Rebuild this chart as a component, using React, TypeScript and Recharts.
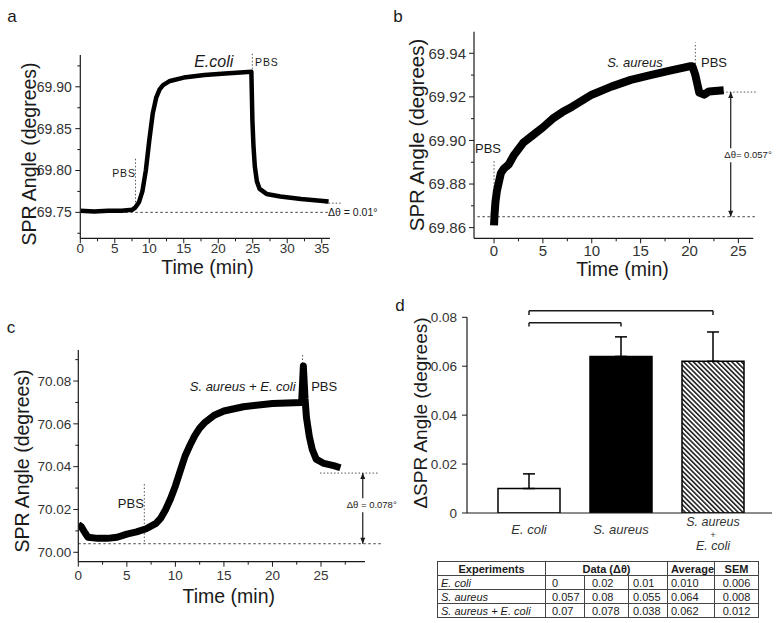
import React from "react";
import {
  Bar,
  BarChart,
  Cell,
  ErrorBar,
  Line,
  LineChart,
  ReferenceDot,
  ReferenceLine,
  XAxis,
  YAxis,
} from "recharts";

const FONT = '"Liberation Sans", Arial, sans-serif';
const INK = "#1a1a1a";
const GREY = "#333";

// a: E. coli
const timeA = [0, 2, 4, 6, 7.5, 8, 8.5, 9, 9.5, 10, 10.5, 11, 11.5, 12, 13, 15, 18, 21, 24.8, 24.95, 25.1, 25.3, 25.6, 26, 27, 29, 32, 36];
const angleA = [69.752, 69.751, 69.752, 69.752, 69.753, 69.756, 69.762, 69.775, 69.8, 69.836, 69.868, 69.887, 69.897, 69.902, 69.907, 69.911, 69.914, 69.916, 69.918, 69.86, 69.83, 69.805, 69.787, 69.778, 69.772, 69.769, 69.766, 69.763];
const xMajorA = [0, 5, 10, 15, 20, 25, 30, 35];
const xMinorA = [2.5, 7.5, 12.5, 17.5, 22.5, 27.5, 32.5];
const yMajorA = [69.75, 69.8, 69.85, 69.9];
const yMinorA = [69.725, 69.775, 69.825, 69.875, 69.925];

// b: S. aureus
const timeB = [0, 0.05, 0.15, 0.3, 0.5, 0.7, 1, 1.5, 2, 3, 4, 5, 6, 7, 8, 10, 12, 14, 16, 18, 20, 20.3, 20.6, 21, 21.5, 22, 23.5];
const angleB = [69.861, 69.866, 69.872, 69.877, 69.881, 69.885, 69.887, 69.889, 69.893, 69.899, 69.9025, 69.906, 69.91, 69.913, 69.9155, 69.921, 69.9247, 69.9278, 69.93, 69.932, 69.934, 69.934, 69.93, 69.922, 69.921, 69.9225, 69.923];
const xMajorB = [0, 5, 10, 15, 20, 25];
const xMinorB = [2.5, 7.5, 12.5, 17.5, 22.5];
const yMajorB = [69.86, 69.88, 69.9, 69.92, 69.94];
const yMinorB = [69.87, 69.89, 69.91, 69.93];

// c: S. aureus + E. coli
const timeC = [0, 0.3, 0.7, 1, 2, 3, 4, 5, 6, 7, 8, 8.5, 9, 9.5, 10, 10.5, 11, 11.5, 12, 12.5, 13, 14, 15, 17, 20, 23, 23.1, 23.18, 23.35, 23.5, 23.8, 24.1, 24.5, 25.3, 26.3, 27];
const angleC = [70.013, 70.012, 70.009, 70.007, 70.0065, 70.0065, 70.007, 70.0085, 70.0095, 70.011, 70.0135, 70.016, 70.02, 70.025, 70.031, 70.038, 70.045, 70.05, 70.0545, 70.058, 70.0605, 70.064, 70.066, 70.068, 70.0695, 70.07, 70.079, 70.087, 70.072, 70.063, 70.054, 70.048, 70.0435, 70.0415, 70.0405, 70.0395];
const xMajorC = [0, 5, 10, 15, 20, 25];
const xMinorC = [2.5, 7.5, 12.5, 17.5, 22.5, 27.5];
const yMajorC = [70.0, 70.02, 70.04, 70.06, 70.08];
const yMinorC = [70.01, 70.03, 70.05, 70.07, 70.09];

// d: summary
const groups = ["E. coli", "S. aureus", "S. aureus + E. coli"];
const averages = [0.01, 0.064, 0.062];
const sems = [0.006, 0.008, 0.012];
const barFills = ["#fff", "#000", "url(#hatch)"];
const yMajorD = [0, 0.02, 0.04, 0.06, 0.08];
const runs = [
  ["0", "0.02", "0.01"],
  ["0.057", "0.08", "0.055"],
  ["0.07", "0.078", "0.038"],
];

const dataA = timeA.map((t, i) => ({ t, v: angleA[i] }));
const dataB = timeB.map((t, i) => ({ t, v: angleB[i] }));
const dataC = timeC.map((t, i) => ({ t, v: angleC[i] }));
const dataD = groups.map((name, i) => ({ name, avg: averages[i], err: [0, sems[i]] }));

const isMajor = (list: number[], v: number) => list.some((m) => Math.abs(m - v) < 1e-9);

function yTick(majors: number[], fs: number, digits: number, gap: number) {
  return (p: any) => {
    const v = p.payload.value;
    const major = isMajor(majors, v);
    return (
      <g>
        <line x1={p.x - (major ? 5 : 3)} x2={p.x} y1={p.y} y2={p.y} stroke={INK} />
        {major && (
          <text x={p.x - gap} y={p.y} dy="0.35em" textAnchor="end" fontSize={fs} fill={GREY} fontFamily={FONT}>
            {v === 0 ? "0" : v.toFixed(digits)}
          </text>
        )}
      </g>
    );
  };
}

function xTick(majors: number[], fs: number, gap: number) {
  return (p: any) => {
    const v = p.payload.value;
    const major = isMajor(majors, v);
    return (
      <g>
        <line x1={p.x} x2={p.x} y1={p.y} y2={p.y + (major ? 5 : 3)} stroke={INK} />
        {major && (
          <text x={p.x} y={p.y + gap} dy="0.35em" textAnchor="middle" fontSize={fs} fill={GREY} fontFamily={FONT}>
            {v}
          </text>
        )}
      </g>
    );
  };
}

function groupTick(p: any) {
  const lines = String(p.payload.value).split(" + ");
  const rows = lines.length > 1 ? [lines[0], "+", lines[1]] : lines;
  const offs = rows.length > 1 ? [9, 21.5, 33] : [16];
  return (
    <g>
      {rows.map((r, i) => (
        <text
          key={i}
          x={p.x}
          y={p.y + offs[i]}
          dy="0.35em"
          textAnchor="middle"
          fontSize={r === "+" ? 9 : rows.length > 1 ? 12.5 : 13}
          fontStyle="italic"
          fill={GREY}
          fontFamily={FONT}
        >
          {r}
        </text>
      ))}
    </g>
  );
}

const arrowUp = (p: any) => <path d={`M${p.cx - 2.5},${p.cy + 6} L${p.cx},${p.cy} L${p.cx + 2.5},${p.cy + 6} Z`} fill={INK} />;
const arrowDown = (p: any) => <path d={`M${p.cx - 2.5},${p.cy - 6} L${p.cx},${p.cy} L${p.cx + 2.5},${p.cy - 6} Z`} fill={INK} />;

const dotted = { stroke: "#555", strokeDasharray: "1.5 2", strokeWidth: 1, ifOverflow: "visible" as const };
const dashed = { stroke: "#444", strokeDasharray: "2.5 2.5", strokeWidth: 1, ifOverflow: "visible" as const };
const axisLine = { stroke: INK, strokeWidth: 1.2 };

function Txt({ x, y, size, children, italic, rotate, left, bg, spacing }: any) {
  return (
    <div
      style={{
        position: "absolute",
        left: x,
        top: y,
        transform: `translate(${left ? "0" : "-50%"},-50%)${rotate ? " rotate(-90deg)" : ""}`,
        fontSize: size,
        fontStyle: italic ? "italic" : "normal",
        fontFamily: FONT,
        color: INK,
        whiteSpace: "nowrap",
        lineHeight: 1,
        background: bg ? "#fff" : "transparent",
        padding: bg ? "2px 0" : 0,
        letterSpacing: spacing || 0,
      }}
    >
      {children}
    </div>
  );
}

const cell: React.CSSProperties = { border: "1px solid #444", padding: "0 3px", height: 13, whiteSpace: "nowrap" };

export default function App() {
  return (
    <div style={{ position: "absolute", left: 0, top: 0, width: 782, height: 623, background: "#fff", overflow: "hidden", fontFamily: FONT }}>
      {/* a */}
      <div style={{ position: "absolute", left: 0, top: 0 }}>
        <LineChart width={390} height={300} data={dataA} margin={{ top: 55, right: 60, left: 30.3, bottom: 31.7 }}>
          <XAxis type="number" dataKey="t" domain={[0, 36.2]} allowDataOverflow ticks={[...xMajorA, ...xMinorA].sort((a, b) => a - b)} interval={0} tickSize={0} tickMargin={0} tickLine={false} tick={xTick(xMajorA, 13.5, 10)} axisLine={axisLine} height={30} />
          <YAxis type="number" domain={[69.719, 69.938]} allowDataOverflow ticks={[...yMajorA, ...yMinorA].sort((a, b) => a - b)} interval={0} tickSize={0} tickMargin={0} tickLine={false} tick={yTick(yMajorA, 14, 2, 8.5)} axisLine={axisLine} width={50} />
          <ReferenceLine y={69.75} {...dashed} />
          <ReferenceLine segment={[{ x: 8, y: 69.762 }, { x: 8, y: 69.815 }]} {...dotted} />
          <ReferenceLine segment={[{ x: 24.94, y: 69.921 }, { x: 24.94, y: 69.941 }]} {...dotted} />
          <ReferenceLine segment={[{ x: 35.5, y: 69.761 }, { x: 38, y: 69.761 }]} {...dotted} />
          <Line type="linear" dataKey="v" stroke="#000" strokeWidth={4.5} strokeLinejoin="round" dot={false} isAnimationActive={false} />
        </LineChart>
      </div>

      {/* b */}
      <div style={{ position: "absolute", left: 390, top: 0 }}>
        <LineChart width={392} height={300} data={dataB} margin={{ top: 31.7, right: 28.7, left: 34, bottom: 31.7 }}>
          <XAxis type="number" dataKey="t" domain={[-2.05, 26.53]} allowDataOverflow ticks={[...xMajorB, ...xMinorB].sort((a, b) => a - b)} interval={0} tickSize={0} tickMargin={0} tickLine={false} tick={xTick(xMajorB, 15, 12)} axisLine={axisLine} height={30} />
          <YAxis type="number" domain={[69.8551, 69.9499]} allowDataOverflow ticks={[...yMajorB, ...yMinorB].sort((a, b) => a - b)} interval={0} tickSize={0} tickMargin={0} tickLine={false} tick={yTick(yMajorB, 15, 2, 8)} axisLine={axisLine} width={50} />
          <ReferenceLine segment={[{ x: -1.7, y: 69.865 }, { x: 26.9, y: 69.865 }]} {...dashed} />
          <ReferenceLine segment={[{ x: 23.4, y: 69.9222 }, { x: 26.9, y: 69.9222 }]} {...dotted} />
          <ReferenceLine segment={[{ x: 0, y: 69.8625 }, { x: 0, y: 69.891 }]} {...dotted} />
          <ReferenceLine segment={[{ x: 20.6, y: 69.9335 }, { x: 20.6, y: 69.945 }]} {...dotted} />
          <ReferenceLine segment={[{ x: 24.22, y: 69.9222 }, { x: 24.22, y: 69.865 }]} stroke={INK} strokeWidth={1.2} ifOverflow="visible" />
          <ReferenceDot x={24.22} y={69.9222} r={0} shape={arrowUp} ifOverflow="visible" />
          <ReferenceDot x={24.22} y={69.865} r={0} shape={arrowDown} ifOverflow="visible" />
          <Line type="linear" dataKey="v" stroke="#000" strokeWidth={8} strokeLinejoin="round" dot={false} isAnimationActive={false} />
        </LineChart>
      </div>

      {/* c */}
      <div style={{ position: "absolute", left: 0, top: 300 }}>
        <LineChart width={390} height={323} data={dataC} margin={{ top: 50, right: 25, left: 28.3, bottom: 31.3 }}>
          <XAxis type="number" dataKey="t" domain={[0, 29.53]} allowDataOverflow ticks={[...xMajorC, ...xMinorC].sort((a, b) => a - b)} interval={0} tickSize={0} tickMargin={0} tickLine={false} tick={xTick(xMajorC, 13.5, 14)} axisLine={axisLine} height={30} />
          <YAxis type="number" domain={[69.9956, 70.0945]} allowDataOverflow ticks={[...yMajorC, ...yMinorC].sort((a, b) => a - b)} interval={0} tickSize={0} tickMargin={0} tickLine={false} tick={yTick(yMajorC, 13.5, 2, 7)} axisLine={axisLine} width={50} />
          <ReferenceLine segment={[{ x: 0, y: 70.004 }, { x: 31.4, y: 70.004 }]} {...dashed} />
          <ReferenceLine segment={[{ x: 24.9, y: 70.037 }, { x: 30.9, y: 70.037 }]} {...dotted} />
          <ReferenceLine segment={[{ x: 6.8, y: 70.005 }, { x: 6.8, y: 70.032 }]} {...dotted} />
          <ReferenceLine segment={[{ x: 23.1, y: 70.08 }, { x: 23.1, y: 70.093 }]} {...dotted} />
          <ReferenceLine segment={[{ x: 29.3, y: 70.037 }, { x: 29.3, y: 70.004 }]} stroke={INK} strokeWidth={1.2} ifOverflow="visible" />
          <ReferenceDot x={29.3} y={70.037} r={0} shape={arrowUp} ifOverflow="visible" />
          <ReferenceDot x={29.3} y={70.004} r={0} shape={arrowDown} ifOverflow="visible" />
          <Line type="linear" dataKey="v" stroke="#000" strokeWidth={7} strokeLinejoin="round" dot={false} isAnimationActive={false} />
        </LineChart>
      </div>

      {/* d */}
      <div style={{ position: "absolute", left: 390, top: 300 }}>
        <BarChart width={392} height={255} data={dataD} margin={{ top: 17.3, right: 10, left: 27, bottom: 0 }}>
          <defs>
            <pattern id="hatch" patternUnits="userSpaceOnUse" width="3.4" height="3.4" patternTransform="rotate(-45)">
              <rect width="3.4" height="3.4" fill="#fff" />
              <rect width="1.6" height="3.4" fill="#222" />
            </pattern>
          </defs>
          <XAxis dataKey="name" padding={{ left: 16, right: 13 }} interval={0} tickSize={0} tickMargin={0} tickLine={false} tick={groupTick} axisLine={axisLine} height={42} />
          <YAxis type="number" domain={[0, 0.08]} allowDataOverflow ticks={yMajorD} interval={0} tickSize={0} tickMargin={0} tickLine={false} tick={yTick(yMajorD, 13.5, 2, 10)} axisLine={axisLine} width={50} />
          <Bar dataKey="avg" barSize={62} stroke="#000" strokeWidth={1.5} isAnimationActive={false}>
            {dataD.map((d, i) => (
              <Cell key={d.name} fill={barFills[i]} />
            ))}
            <ErrorBar dataKey="err" width={6} stroke="#000" strokeWidth={1.5} direction="y" />
          </Bar>
          <ReferenceLine segment={[{ x: groups[0], y: 0.0778 }, { x: groups[1], y: 0.0778 }]} stroke={INK} strokeWidth={1.5} ifOverflow="visible" />
          <ReferenceLine segment={[{ x: groups[0], y: 0.0778 }, { x: groups[0], y: 0.0762 }]} stroke={INK} strokeWidth={1.5} ifOverflow="visible" />
          <ReferenceLine segment={[{ x: groups[1], y: 0.0778 }, { x: groups[1], y: 0.0762 }]} stroke={INK} strokeWidth={1.5} ifOverflow="visible" />
          <ReferenceLine segment={[{ x: groups[0], y: 0.0827 }, { x: groups[2], y: 0.0827 }]} stroke={INK} strokeWidth={1.5} ifOverflow="visible" />
          <ReferenceLine segment={[{ x: groups[0], y: 0.0827 }, { x: groups[0], y: 0.0809 }]} stroke={INK} strokeWidth={1.5} ifOverflow="visible" />
          <ReferenceLine segment={[{ x: groups[2], y: 0.0827 }, { x: groups[2], y: 0.0809 }]} stroke={INK} strokeWidth={1.5} ifOverflow="visible" />
        </BarChart>
      </div>

      {/* panel letters, titles, annotations */}
      <Txt x={12} y={16} size={17}>a</Txt>
      <Txt x={398} y={16} size={17}>b</Txt>
      <Txt x={11} y={327} size={17}>c</Txt>
      <Txt x={400} y={305} size={17}>d</Txt>

      <Txt x={30} y={154} size={19.5} rotate>SPR Angle (degrees)</Txt>
      <Txt x={207.5} y={268} size={19.5}>Time (min)</Txt>
      <Txt x={416.7} y={135} size={20.5} rotate>SPR Angle (degrees)</Txt>
      <Txt x={622.5} y={270} size={19.5}>Time (min)</Txt>
      <Txt x={23.3} y={461} size={19.5} rotate>SPR Angle (degrees)</Txt>
      <Txt x={228.8} y={596.7} size={19.5}>Time (min)</Txt>
      <Txt x={420} y={413} size={19} rotate>ΔSPR Angle (degrees)</Txt>

      <Txt x={213.7} y={61.7} size={16} italic>E.coli</Txt>
      <Txt x={266.8} y={62} size={10.5} spacing={0.8}>PBS</Txt>
      <Txt x={124} y={173.3} size={10.5} spacing={0.8}>PBS</Txt>
      <Txt x={328} y={211.7} size={10.5} left>Δθ = 0.01°</Txt>

      <Txt x={488} y={148} size={13}>PBS</Txt>
      <Txt x={635} y={62} size={13} italic>S. aureus</Txt>
      <Txt x={714} y={62} size={13}>PBS</Txt>
      <Txt x={748} y={155} size={9.5} bg>Δθ= 0.057°</Txt>

      <Txt x={130.8} y={502.7} size={13}>PBS</Txt>
      <Txt x={242.7} y={386} size={13} italic>S. aureus + E. coli</Txt>
      <Txt x={324.2} y={386} size={13}>PBS</Txt>
      <Txt x={371.7} y={505} size={9.5} bg>Δθ = 0.078°</Txt>

      <table
        style={{
          position: "absolute",
          left: 437,
          top: 561,
          width: 321,
          borderCollapse: "collapse",
          border: "1.5px solid #333",
          fontSize: 11,
          lineHeight: "12px",
          color: INK,
          fontFamily: FONT,
          tableLayout: "fixed",
        }}
      >
        <colgroup>
          <col style={{ width: 108 }} />
          <col style={{ width: 39 }} />
          <col style={{ width: 44 }} />
          <col style={{ width: 39 }} />
          <col style={{ width: 47 }} />
          <col style={{ width: 44 }} />
        </colgroup>
        <tbody>
          <tr style={{ fontWeight: "bold" }}>
            <td style={{ ...cell, textAlign: "center" }}>Experiments</td>
            <td style={{ ...cell, textAlign: "center" }} colSpan={3}>Data (Δθ)</td>
            <td style={{ ...cell, textAlign: "center" }}>Average</td>
            <td style={{ ...cell, textAlign: "center" }}>SEM</td>
          </tr>
          {groups.map((g, i) => (
            <tr key={g}>
              <td style={{ ...cell, fontStyle: "italic" }}>{g}</td>
              {runs[i].map((r, j) => (
                <td key={j} style={{ ...cell, paddingLeft: [6, 7, 4][j] }}>{r}</td>
              ))}
              <td style={{ ...cell }}>{averages[i].toFixed(3)}</td>
              <td style={{ ...cell, textAlign: "center" }}>{sems[i].toFixed(3)}</td>
            </tr>
          ))}
        </tbody>
      </table>
    </div>
  );
}
